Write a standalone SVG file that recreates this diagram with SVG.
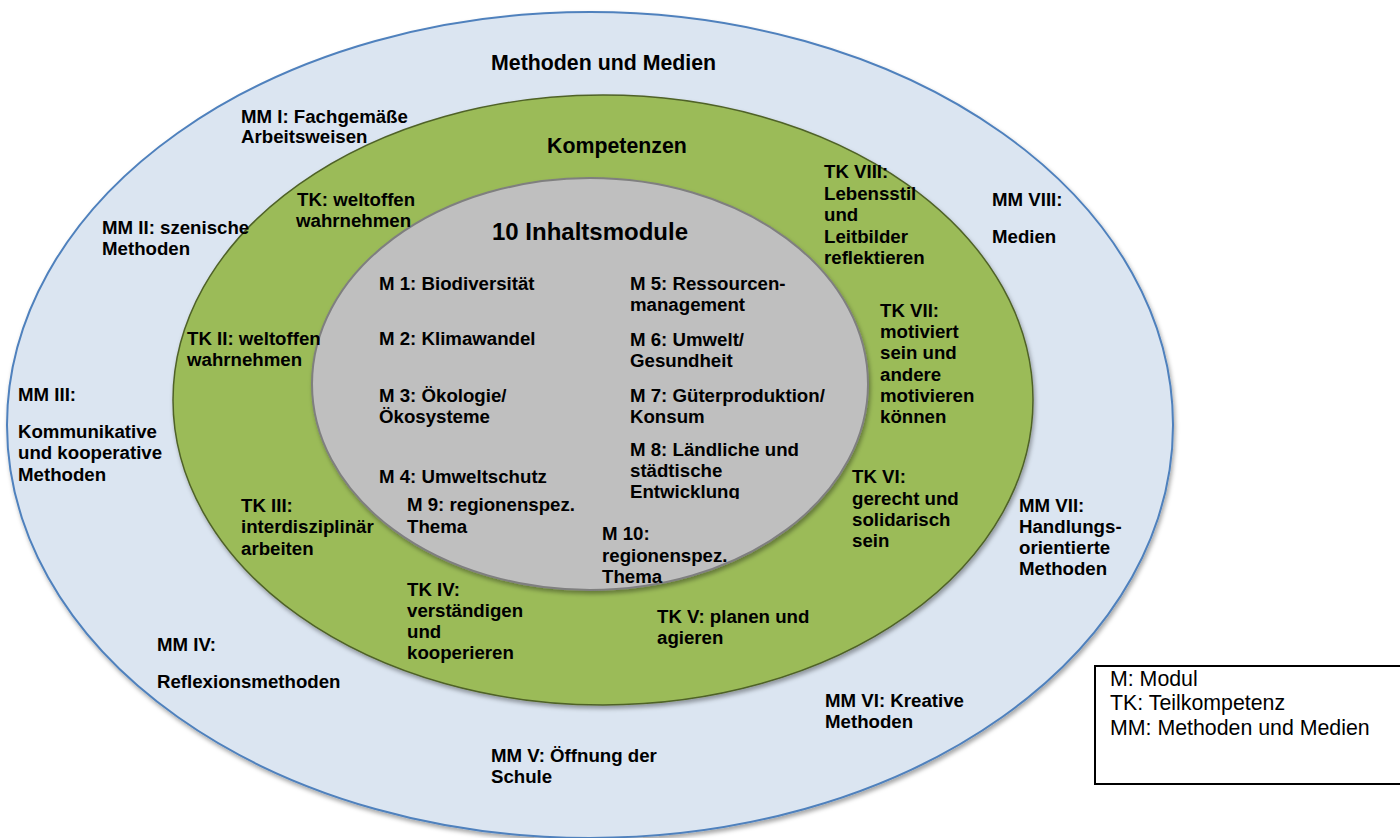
<svg xmlns="http://www.w3.org/2000/svg" width="1400" height="838" viewBox="0 0 1400 838">
<defs>
<style>
.b{font-family:"Liberation Sans",Arial,sans-serif;font-weight:bold;font-size:18.67px;fill:#000}
.t{font-family:"Liberation Sans",Arial,sans-serif;font-weight:bold;font-size:21.33px;fill:#000}
.h{font-family:"Liberation Sans",Arial,sans-serif;font-weight:bold;font-size:24px;fill:#000}
.r{font-family:"Liberation Sans",Arial,sans-serif;font-size:21.33px;fill:#000}
</style>
<filter id="sh" x="-5%" y="-5%" width="110%" height="112%">
<feDropShadow dx="1.5" dy="3" stdDeviation="2" flood-color="#000" flood-opacity="0.35"/>
</filter>
<clipPath id="clipM8"><rect x="600" y="430" width="260" height="69"/></clipPath>
</defs>
<rect width="1400" height="838" fill="#fff"/>

<g id="ring-methoden">
<ellipse cx="590" cy="425" rx="583" ry="413" fill="#dbe5f1" stroke="#4f81bd" stroke-width="2" filter="url(#sh)"/>
<text class="t" x="491" y="70">Methoden und Medien</text>
</g>

<g id="ring-kompetenzen">
<ellipse cx="603" cy="400" rx="430" ry="305" fill="#9bbb59" stroke="#4f6228" stroke-width="1.5" filter="url(#sh)"/>
<text class="t" x="547" y="153">Kompetenzen</text>
</g>

<g id="ring-inhalt">
<ellipse cx="590" cy="384" rx="278" ry="206" fill="#bfbfbf" stroke="#7f7f7f" stroke-width="2" filter="url(#sh)"/>
<text class="h" x="492" y="240">10 Inhaltsmodule</text>
</g>

<g id="mm1"><text class="b"><tspan x="241" y="123">MM I: Fachgemäße</tspan><tspan x="241" y="143">Arbeitsweisen</tspan></text></g>
<g id="mm2"><text class="b"><tspan x="102" y="234">MM II: szenische</tspan><tspan x="102" y="255">Methoden</tspan></text></g>
<g id="mm3"><text class="b"><tspan x="18" y="401">MM III:</tspan><tspan x="18" y="438">Kommunikative</tspan><tspan x="18" y="459">und kooperative</tspan><tspan x="18" y="481">Methoden</tspan></text></g>
<g id="mm4"><text class="b"><tspan x="157" y="651">MM IV:</tspan><tspan x="157" y="688">Reflexionsmethoden</tspan></text></g>
<g id="mm5"><text class="b"><tspan x="491" y="762">MM V: Öffnung der</tspan><tspan x="491" y="783">Schule</tspan></text></g>
<g id="mm6"><text class="b"><tspan x="825" y="707">MM VI: Kreative</tspan><tspan x="825" y="728">Methoden</tspan></text></g>
<g id="mm7"><text class="b"><tspan x="1019" y="512">MM VII:</tspan><tspan x="1019" y="533">Handlungs-</tspan><tspan x="1019" y="554">orientierte</tspan><tspan x="1019" y="575">Methoden</tspan></text></g>
<g id="mm8"><text class="b"><tspan x="992" y="206">MM VIII:</tspan><tspan x="992" y="243">Medien</tspan></text></g>

<g id="tk1"><text class="b"><tspan x="297" y="206">TK: weltoffen</tspan><tspan x="296" y="227">wahrnehmen</tspan></text></g>
<g id="tk2"><text class="b"><tspan x="187" y="345">TK II: weltoffen</tspan><tspan x="187" y="366">wahrnehmen</tspan></text></g>
<g id="tk3"><text class="b"><tspan x="241" y="512">TK III:</tspan><tspan x="241" y="533">interdisziplinär</tspan><tspan x="241" y="555">arbeiten</tspan></text></g>
<g id="tk4"><text class="b"><tspan x="407" y="596">TK IV:</tspan><tspan x="407" y="617">verständigen</tspan><tspan x="407" y="638">und</tspan><tspan x="407" y="659">kooperieren</tspan></text></g>
<g id="tk5"><text class="b"><tspan x="657" y="623">TK V: planen und</tspan><tspan x="657" y="644">agieren</tspan></text></g>
<g id="tk6"><text class="b"><tspan x="852" y="483">TK VI:</tspan><tspan x="852" y="505">gerecht und</tspan><tspan x="852" y="526">solidarisch</tspan><tspan x="852" y="547">sein</tspan></text></g>
<g id="tk7"><text class="b"><tspan x="880" y="317">TK VII:</tspan><tspan x="880" y="338">motiviert</tspan><tspan x="880" y="359">sein und</tspan><tspan x="880" y="381">andere</tspan><tspan x="880" y="402">motivieren</tspan><tspan x="880" y="423">können</tspan></text></g>
<g id="tk8"><text class="b"><tspan x="824" y="178">TK VIII:</tspan><tspan x="824" y="200">Lebensstil</tspan><tspan x="824" y="221">und</tspan><tspan x="824" y="243">Leitbilder</tspan><tspan x="824" y="264">reflektieren</tspan></text></g>

<g id="m1"><text class="b" x="379" y="290">M 1: Biodiversität</text></g>
<g id="m2"><text class="b" x="379" y="345">M 2: Klimawandel</text></g>
<g id="m3"><text class="b"><tspan x="379" y="402">M 3: Ökologie/</tspan><tspan x="379" y="423">Ökosysteme</tspan></text></g>
<g id="m4"><text class="b" x="379" y="483">M 4: Umweltschutz</text></g>
<g id="m5"><text class="b"><tspan x="630" y="290">M 5: Ressourcen-</tspan><tspan x="630" y="311">management</tspan></text></g>
<g id="m6"><text class="b"><tspan x="630" y="346">M 6: Umwelt/</tspan><tspan x="630" y="367">Gesundheit</tspan></text></g>
<g id="m7"><text class="b"><tspan x="630" y="402">M 7: Güterproduktion/</tspan><tspan x="630" y="423">Konsum</tspan></text></g>
<g id="m8" clip-path="url(#clipM8)"><text class="b"><tspan x="630" y="456">M 8: Ländliche und</tspan><tspan x="630" y="477">städtische</tspan><tspan x="630" y="498">Entwicklung</tspan></text></g>
<g id="m9"><text class="b"><tspan x="407" y="511">M 9: regionenspez.</tspan><tspan x="407" y="533">Thema</tspan></text></g>
<g id="m10"><text class="b"><tspan x="602" y="540">M 10:</tspan><tspan x="602" y="562">regionenspez.</tspan><tspan x="602" y="583">Thema</tspan></text></g>

<g id="legend">
<rect x="1095" y="666" width="320" height="118" fill="#fff" stroke="#000" stroke-width="2"/>
<text class="r"><tspan x="1110" y="686">M: Modul</tspan><tspan x="1110" y="710">TK: Teilkompetenz</tspan><tspan x="1110" y="735">MM: Methoden und Medien</tspan></text>
</g>
</svg>
